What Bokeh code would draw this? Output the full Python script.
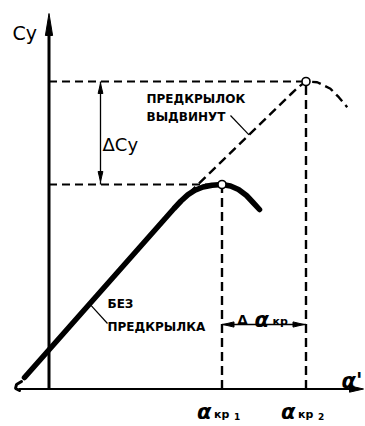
import numpy as np
from bokeh.plotting import figure
from bokeh.models import Range1d, Label
from bokeh.embed import file_html
from bokeh.resources import INLINE

# ---------------- data (alpha in degrees, Cy) ----------------
alpha_no_slat = [-2.45, 12.5, 13.2, 13.9, 14.6, 15.4, 16.3, 17.3, 18.15, 18.95, 19.75, 20.45, 21.05]
cy_no_slat = [0.0575, 0.9025, 0.94, 0.972, 0.994, 1.01, 1.019, 1.0225, 1.015, 0.9975, 0.9675, 0.93, 0.8975]
alpha_hook = [-2.75, -3.25, -3.35, -2.95]
cy_hook = [0.0375, 0.0225, 0.0025, -0.0075]
alpha_slat = [13.0, 24.15, 24.95, 25.7, 26.82, 28.15, 28.98, 29.82]
cy_slat = [0.93, 1.4725, 1.51, 1.5375, 1.534, 1.501, 1.459, 1.409]
alpha_kr = [17.3, 25.7]
cy_max = [1.0225, 1.5375]
labels_kr = ["1", "2"]

# ---------------- scale helpers (pixels per unit) ----------------
PXA = 10.0   # px per degree
PXC = 200.0  # px per unit Cy
OX, OY = 48.5, 388.5  # origin position inside the figure, px
W, H = 365, 426

def a(px):
    return px / PXA
def c(px):
    return px / PXC

p = figure(width=W, height=H,
           x_range=Range1d(a(0 - OX), a(W - OX)), y_range=Range1d(c(OY - H), c(OY)),
           output_backend="svg", toolbar_location=None, min_border=0,
           x_axis_location=None, y_axis_location=None)
p.grid.visible = False
p.outline_line_color = None
p.background_fill_color = "white"
p.border_fill_color = "white"

INK = "black"

def head(tip_a, tip_c, dx, dy, length, half):
    tx, ty = tip_a * PXA, tip_c * PXC
    bx, by = tx - dx * length, ty - dy * length
    px_, py_ = -dy, dx
    xs = [tx, bx + px_ * half, bx - px_ * half]
    ys = [ty, by + py_ * half, by - py_ * half]
    return [v / PXA for v in xs], [v / PXC for v in ys]

def X(px):
    return a(px - OX)
def Y(py):
    return c(OY - py)

heads_x, heads_y = [], []

# axes
y_top = Y(13)
x_right = X(363)
x_left = X(18)
p.line([0, 0], [0, y_top - c(10)], line_color=INK, line_width=3)
p.line([x_left, x_right - a(6)], [0, 0], line_color=INK, line_width=2.2)
hx, hy = head(0, y_top, 0, 1, 22, 3.6); heads_x.append(hx); heads_y.append(hy)
hx, hy = head(x_right, 0, 1, 0, 14, 3.2); heads_x.append(hx); heads_y.append(hy)

# guide dashed lines
for ak, cm in zip(alpha_kr, cy_max):
    p.line([0, ak], [cm, cm], line_color=INK, line_width=1.8, line_dash="8 5")
    p.line([ak, ak], [0, cm], line_color=INK, line_width=2.4, line_dash="9 5")

# curves
p.line(alpha_slat, cy_slat, line_color=INK, line_width=2.4, line_dash="9 5")
p.line(alpha_no_slat, cy_no_slat, line_color=INK, line_width=5.5, line_cap="round", line_join="round")
p.line(alpha_hook, cy_hook, line_color=INK, line_width=3, line_cap="round")
p.scatter(alpha_kr, cy_max, size=8, marker="circle", fill_color="white",
          line_color=INK, line_width=1.6)

# delta Cy dimension
x_dim = X(100)
p.line([x_dim, x_dim], [cy_max[0], cy_max[1]], line_color=INK, line_width=1.3)
hx, hy = head(x_dim, cy_max[1] - c(2), 0, 1, 10, 2.4); heads_x.append(hx); heads_y.append(hy)
hx, hy = head(x_dim, cy_max[0] + c(3), 0, -1, 10, 2.4); heads_x.append(hx); heads_y.append(hy)

# delta alpha dimension
y_dim = Y(324)
p.line([alpha_kr[0], alpha_kr[1]], [y_dim, y_dim], line_color=INK, line_width=1.6)
hx, hy = head(alpha_kr[0] + a(1), y_dim, -1, 0, 11, 2.6); heads_x.append(hx); heads_y.append(hy)
hx, hy = head(alpha_kr[1] - a(2), y_dim, 1, 0, 11, 2.6); heads_x.append(hx); heads_y.append(hy)

p.patches(heads_x, heads_y, fill_color=INK, line_color=INK, line_width=1)

# leader lines
p.line([X(230), 20.0], [Y(115), float(np.interp(20.0, alpha_slat, cy_slat))],
       line_color=INK, line_width=1.2)
p.line([X(107), 4.2], [Y(323), float(np.interp(4.2, alpha_no_slat, cy_no_slat)) - c(3)],
       line_color=INK, line_width=1.2)

# ---------------- texts ----------------
def lab(text, ax, cy, size, style="normal", font="DejaVu Sans", align="left"):
    p.add_layout(Label(x=ax, y=cy, text=text, text_font=font,
                       text_font_size=f"{size}px", text_font_style=style,
                       text_color=INK, text_align=align, text_baseline="alphabetic"))

lab("Cy", X(12), Y(32), 19)
lab("ПРЕДКРЫЛОК", X(146), Y(98), 12, "bold")
lab("ВЫДВИНУТ", X(146), Y(116), 12, "bold")
lab("ΔCy", X(102), Y(144), 18)
lab("БЕЗ", X(107), Y(303), 12, "bold")
lab("ПРЕДКРЫЛКА", X(107), Y(326), 12, "bold")

# delta alpha_kr label
lab("Δ", X(237), Y(319), 13, "bold")
lab("α", X(254), Y(319), 21, "bold italic")
lab("кр", X(272), Y(321), 11, "bold")

# alpha_kr1, alpha_kr2 labels (anchored at the critical angles)
for ak, sub in zip(alpha_kr, labels_kr):
    lab("α", ak - a(25), Y(411), 21, "bold italic")
    lab("кр", ak - a(8), Y(414), 11, "bold")
    lab(sub, ak + a(12), Y(416), 9, "bold")

# alpha axis label
lab("α'", X(341), Y(380), 21, "bold italic")

open("out.html", "w").write(file_html(p, INLINE))
